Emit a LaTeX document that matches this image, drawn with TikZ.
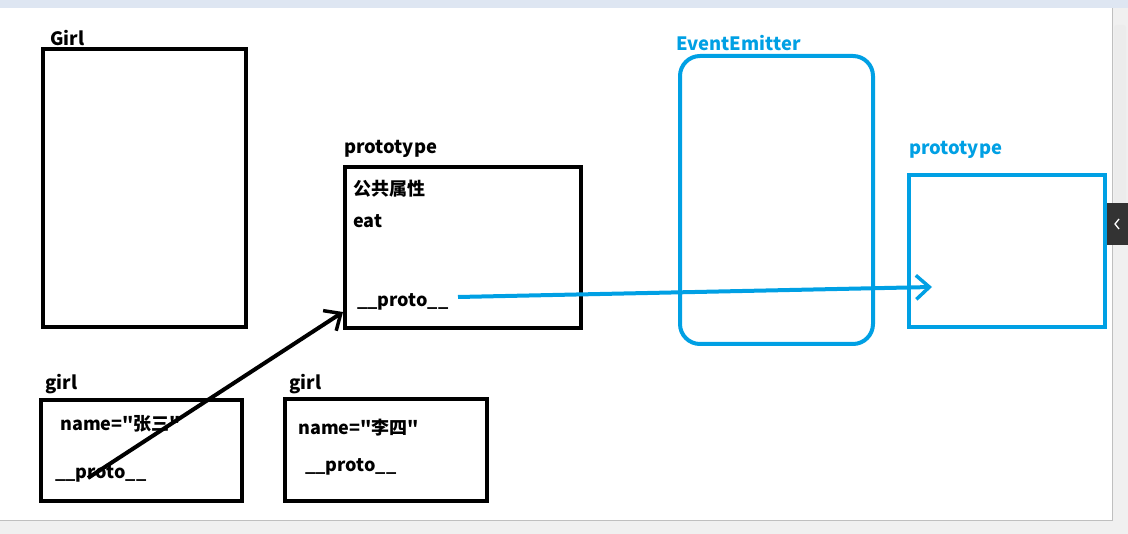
\documentclass[tikz,border=0pt]{standalone}
\usepackage{fontspec}
\newfontfamily\cnfont{Noto Sans CJK SC}
\usetikzlibrary{positioning,arrows.meta}
\definecolor{eeblue}{RGB}{0,160,228}
\definecolor{barbg}{RGB}{240,240,240}
\definecolor{topbg}{RGB}{222,230,242}

\begin{document}
\begin{tikzpicture}[x=0.75pt, y=-0.75pt,
			blackbox/.style={draw=black, line width=3pt, minimum width=#1, inner sep=0pt},
			bluebox/.style={draw=eeblue, line width=3pt, inner sep=0pt},
			title/.style={anchor=west, inner sep=0pt, font=\cnfont\fontsize{13.8}{15}\selectfont\bfseries},
			entry/.style={anchor=west, inner sep=0pt, font=\cnfont\fontsize{13.5}{15}\selectfont\bfseries},
			arrowline/.style={line width=3pt, -{Straight Barb[length=10pt, width=18pt, line width=2.6pt]}},
		]
			\useasboundingbox (0,0) rectangle (1128,534);
			\fill[white] (0,0) rectangle (1128,534);

			%Window chrome
			\fill[topbg] (0,0) rectangle (1128,8);
			\fill[barbg] (1112,8) rectangle (1128,534);
			\fill[barbg] (0,520) rectangle (1128,534);
			\draw[gray!50] (0,520) -- (1112,520) -- (1112,8);
			\fill[gray!15, rounded corners=2pt] (1114,25) rectangle (1126,240);
			\fill[black!80] (1107,203) rectangle (1128,245);
			\draw[white, line width=1pt] (1119,219) -- (1115,224) -- (1119,229);

			%Nodes
			\node[blackbox=152.25pt, minimum height=208.5pt]	(Girl)		at (144.5,188)	{};
			\node[title]	(GirlT)		at (50,38)		{Girl};

			\node[blackbox=177pt, minimum height=120.75pt]	(proto)		at (463,247.5)	{};
			\node[title]	(protoT)	at (344,149)	{prototype};
			\node[entry]	(pub)		at (353,189)	{公共属性};
			\node[entry]	(eat)		at (353,221)	{eat};
			\node[entry]	(pp)		at (357,302)	{\_\_proto\_\_};

			\node[blackbox=150.75pt, minimum height=75.75pt]	(girlA)		at (141.5,450.5)	{};
			\node[title]	(girlAT)	at (45,384)		{girl};
			\node[entry]	(nameA)		at (60,424)		{name="张三"};
			\node[entry]	(ppA)		at (55,474)		{\_\_proto\_\_};

			\node[blackbox=151.5pt, minimum height=76.5pt]	(girlB)		at (386,450)	{};
			\node[title]	(girlBT)	at (289,384)	{girl};
			\node[entry]	(nameB)		at (298,428)	{name="李四"};
			\node[entry]	(ppB)		at (305,467)	{\_\_proto\_\_};

			\node[bluebox, rounded corners=15pt, minimum width=144.75pt, minimum height=216pt]	(EE)	at (776.5,200)	{};
			\node[title, text=eeblue]	(EET)	at (676,43)		{EventEmitter};

			\node[bluebox, minimum width=147pt, minimum height=114pt]	(eeproto)	at (1007,251)	{};
			\node[title, text=eeblue]	(eeprotoT)	at (909,150)	{prototype};

			\coordinate (ppAin)		at (88,478);
			\coordinate (ppend)		at (458,297);
			\coordinate (eein)		at (932,287);

			%Lines
			\draw[arrowline, black]	(ppAin) -- (proto.west |- 0,312);
			\draw[arrowline, eeblue]	(ppend) -- (eein);

		\end{tikzpicture}
\end{document}
